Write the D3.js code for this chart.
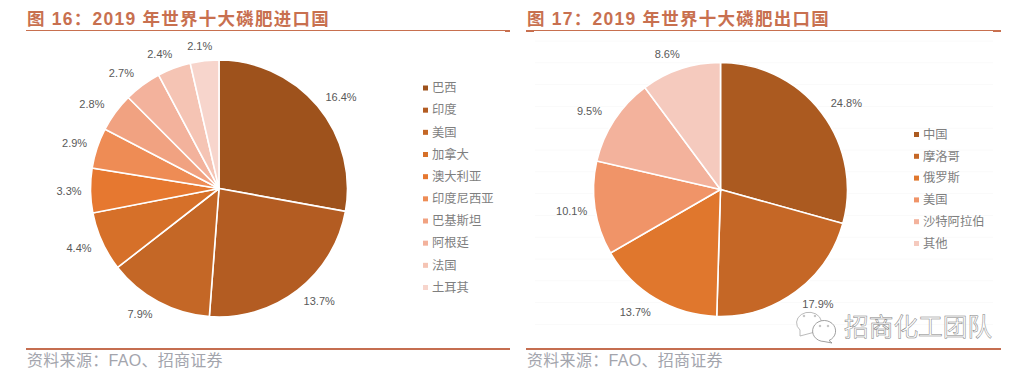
<!DOCTYPE html>
<html>
<head>
<meta charset="utf-8">
<script src="https://cdn.jsdelivr.net/npm/d3@7"></script>
<style>
  html, body { margin: 0; padding: 0; background: #fff; overflow: hidden; }
  text { font-family: "Liberation Sans", "Noto Sans CJK SC", sans-serif; }
</style>
</head>
<body>
<div id="chart"></div>
<script>
const importCountries = ['巴西', '印度', '美国', '加拿大', '澳大利亚', '印度尼西亚', '巴基斯坦', '阿根廷', '法国', '土耳其'];
const importLabels = [16.4, 13.7, 7.9, 4.4, 3.3, 2.9, 2.8, 2.7, 2.4, 2.1];
// slices in the picture are a bit off from the printed labels, so read separately (share of circle, %)
const importShares = [27.9, 23.4, 13.3, 7.5, 5.6, 5.1, 4.9, 4.7, 4.2, 3.6];
const importColors = ['#9e521c', '#b35c22', '#c46726', '#d67029', '#e67830', '#ee8c55', '#f1a281', '#f3b29c', '#f5c4b4', '#f7d5cc'];

const exportCountries = ['中国', '摩洛哥', '俄罗斯', '美国', '沙特阿拉伯', '其他'];
const exportLabels = [24.8, 17.9, 13.7, 10.1, 9.5, 8.6];
const exportColors = ['#ab5a20', '#c56726', '#e0772d', '#f09468', '#f3b29c', '#f5cabe'];

const red = '#c8704f';
const width = 1026, height = 372;

const svg = d3.select('#chart').append('svg')
  .attr('width', width)
  .attr('height', height)
  .style('display', 'block');

// faint background lines of the right hand chart
const gridY = d3.range(41, 345, 21.8);
svg.append('g').selectAll('line')
  .data(gridY)
  .join('line')
  .attr('x1', 535).attr('x2', 993)
  .attr('y1', d => d).attr('y2', d => d)
  .attr('stroke', '#fafafa');

// labels sit on a flattened ring, wider left/right near the top and bottom
function labelPos(d) {
  const a = (d.startAngle + d.endAngle) / 2;
  const rx = 150 + 22 * Math.cos(a) * Math.cos(a);
  return [rx * Math.sin(a), -143 * Math.cos(a)];
}

function drawPanel(opts) {
  const g = svg.append('g');

  g.append('text')
    .attr('x', opts.left + 1)
    .attr('y', 24.5)
    .attr('fill', red)
    .style('font-size', '17.5px')
    .style('font-weight', 'bold')
    .style('letter-spacing', '1.25px')
    .text(opts.title);

  g.append('rect')
    .attr('x', opts.left).attr('y', 30)
    .attr('width', opts.right - opts.left).attr('height', 1)
    .attr('fill', red);

  g.selectAll('.tab')
    .data(opts.tabs)
    .join('rect')
    .attr('class', 'tab')
    .attr('x', d => d[0]).attr('y', 30)
    .attr('width', d => d[1] - d[0]).attr('height', 2)
    .attr('fill', red);

  g.append('line')
    .attr('x1', opts.left).attr('x2', opts.right)
    .attr('y1', 349).attr('y2', 349)
    .attr('stroke', '#c56e50')
    .attr('stroke-width', 2);

  g.append('text')
    .attr('x', opts.left + 1)
    .attr('y', 366)
    .attr('fill', '#a3a5ad')
    .style('font-size', '16px')
    .style('letter-spacing', '0.3px')
    .text('资料来源：FAO、招商证券');

  const pie = d3.pie().sort(null).value(d => d.share);
  const arc = d3.arc().innerRadius(0).outerRadius(opts.radius);

  const rows = opts.names.map((name, i) => ({
    name: name,
    label: opts.labels[i],
    share: opts.shares[i]
  }));
  const color = d3.scaleOrdinal().domain(opts.names).range(opts.colors);

  const pieG = g.append('g')
    .attr('transform', `translate(${opts.cx},${opts.cy})`);

  pieG.selectAll('path')
    .data(pie(rows))
    .join('path')
    .attr('d', arc)
    .attr('fill', d => color(d.data.name))
    .attr('stroke', '#fff')
    .attr('stroke-width', 1.6);

  pieG.selectAll('text')
    .data(pie(rows))
    .join('text')
    .attr('transform', d => `translate(${labelPos(d)})`)
    .attr('text-anchor', 'middle')
    .attr('dy', '0.35em')
    .attr('fill', '#595959')
    .style('font-size', '11px')
    .text(d => d.data.label.toFixed(1) + '%');

  const legendY = d3.scalePoint()
    .domain(opts.names)
    .range([opts.legendTop, opts.legendBottom]);

  const legend = g.append('g').selectAll('g')
    .data(rows)
    .join('g')
    .attr('transform', d => `translate(${opts.legendX},${legendY(d.name)})`);

  legend.append('rect')
    .attr('x', 0).attr('y', -2.5)
    .attr('width', 5).attr('height', 5)
    .attr('fill', d => color(d.name));

  legend.append('text')
    .attr('x', 9)
    .attr('dy', '0.35em')
    .attr('fill', '#7f7f7f')
    .style('font-size', '12.3px')
    .text(d => d.name);
}

drawPanel({
  title: '图 16：2019 年世界十大磷肥进口国',
  left: 26, right: 510, tabs: [[505, 510]],
  cx: 219, cy: 188.5, radius: 128.5,
  names: importCountries, labels: importLabels, shares: importShares, colors: importColors,
  legendX: 423, legendTop: 88, legendBottom: 287.5
});

drawPanel({
  title: '图 17：2019 年世界十大磷肥出口国',
  left: 526, right: 1001, tabs: [[526, 534], [993, 1001]],
  cx: 720.5, cy: 189.5, radius: 127,
  names: exportCountries, labels: exportLabels, shares: exportLabels, colors: exportColors,
  legendX: 914, legendTop: 134.5, legendBottom: 243.5
});

// watermark
const mark = svg.append('g');
mark.append('text')
  .attr('x', 844)
  .attr('y', 336)
  .attr('fill', '#fff')
  .attr('stroke', '#808080')
  .attr('stroke-width', 0.5)
  .style('font-size', '24.7px')
  .text('招商化工团队');

const icon = mark.append('g')
  .attr('fill', '#fff')
  .attr('stroke', '#aaa')
  .attr('stroke-width', 0.8);
icon.append('path').attr('d', 'M800 330 A12.5 10.5 0 1 1 815 332 L800 336 Z');
icon.append('path').attr('d', 'M829 340.5 A11.5 10.5 0 1 0 824 341.5 L832 343 Z').attr('stroke', '#888');
icon.selectAll('circle')
  .data([[804, 316], [815, 316], [820, 326], [828, 326]])
  .join('circle')
  .attr('cx', d => d[0]).attr('cy', d => d[1])
  .attr('r', 0.8);
</script>
</body>
</html>
